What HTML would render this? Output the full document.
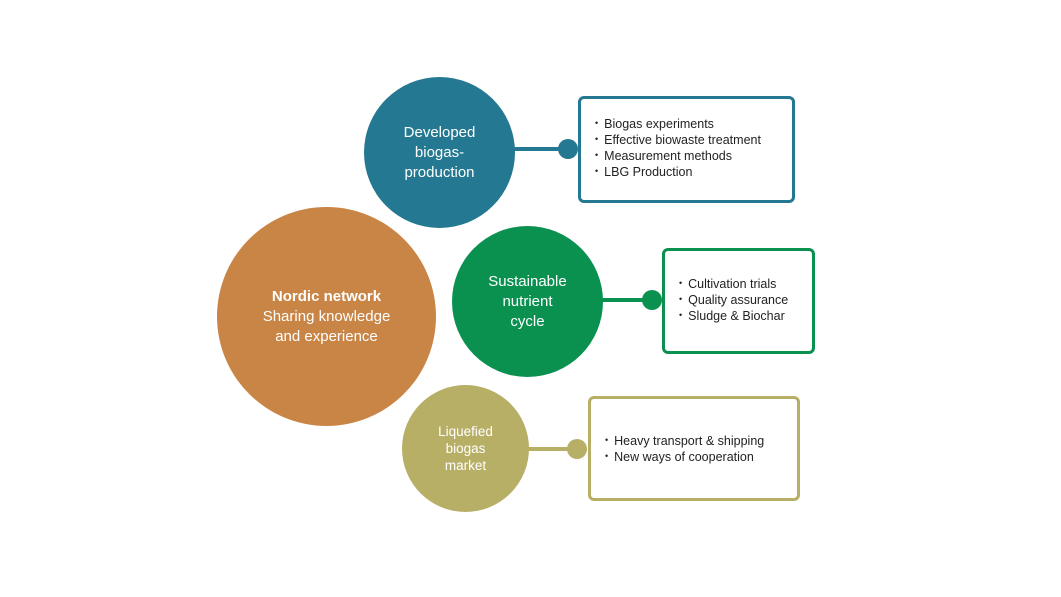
<!DOCTYPE html>
<html><head><style>
body{margin:0;width:1061px;height:597px;background:#fff;position:relative;overflow:hidden;font-family:"Liberation Sans",sans-serif}
.c{position:absolute;border-radius:50%;color:#fff;display:flex;align-items:center;justify-content:center;text-align:center;font-size:15px;line-height:20px}
.l{position:absolute;height:4px}
.d{position:absolute;width:20px;height:20px;border-radius:50%}
.b{position:absolute;border:3px solid;border-radius:6px;background:#fff;box-sizing:border-box;font-size:12.5px;line-height:16px;color:#222;padding-left:14px}
.b div{height:16px}
.b div:before{content:"•";font-size:9px;position:relative;top:-2px;margin-right:6px}
</style></head><body>
<div class="l" style="left:510px;top:147px;width:60px;background:#247891"></div>
<div class="d" style="left:558px;top:139px;background:#247891"></div>
<div class="b" style="left:578px;top:96px;width:217px;height:107px;border-color:#247891;padding-top:17px">
<div>Biogas experiments</div><div>Effective biowaste treatment</div><div>Measurement methods</div><div>LBG Production</div></div>
<div class="l" style="left:598px;top:298px;width:56px;background:#0A9150"></div>
<div class="d" style="left:642px;top:290px;background:#0A9150"></div>
<div class="b" style="left:662px;top:248px;width:153px;height:106px;border-color:#0A9150;padding-top:25px">
<div>Cultivation trials</div><div>Quality assurance</div><div>Sludge &amp; Biochar</div></div>
<div class="l" style="left:525px;top:447px;width:54px;background:#B8AF67"></div>
<div class="d" style="left:567px;top:439px;background:#B8AF67"></div>
<div class="b" style="left:588px;top:396px;width:212px;height:105px;border-color:#B8AF67;padding-top:34px">
<div>Heavy transport &amp; shipping</div><div>New ways of cooperation</div></div>
<div class="c" style="left:364px;top:77px;width:151px;height:151px;background:#247891">Developed<br>biogas-<br>production</div>
<div class="c" style="left:217px;top:207px;width:219px;height:219px;background:#C98546"><div><b>Nordic network</b><br>Sharing knowledge<br>and experience</div></div>
<div class="c" style="left:452px;top:226px;width:151px;height:151px;background:#0A9150">Sustainable<br>nutrient<br>cycle</div>
<div class="c" style="left:402px;top:385px;width:127px;height:127px;background:#B8AF67;font-size:13.5px;line-height:17px">Liquefied<br>biogas<br>market</div>
</body></html>
